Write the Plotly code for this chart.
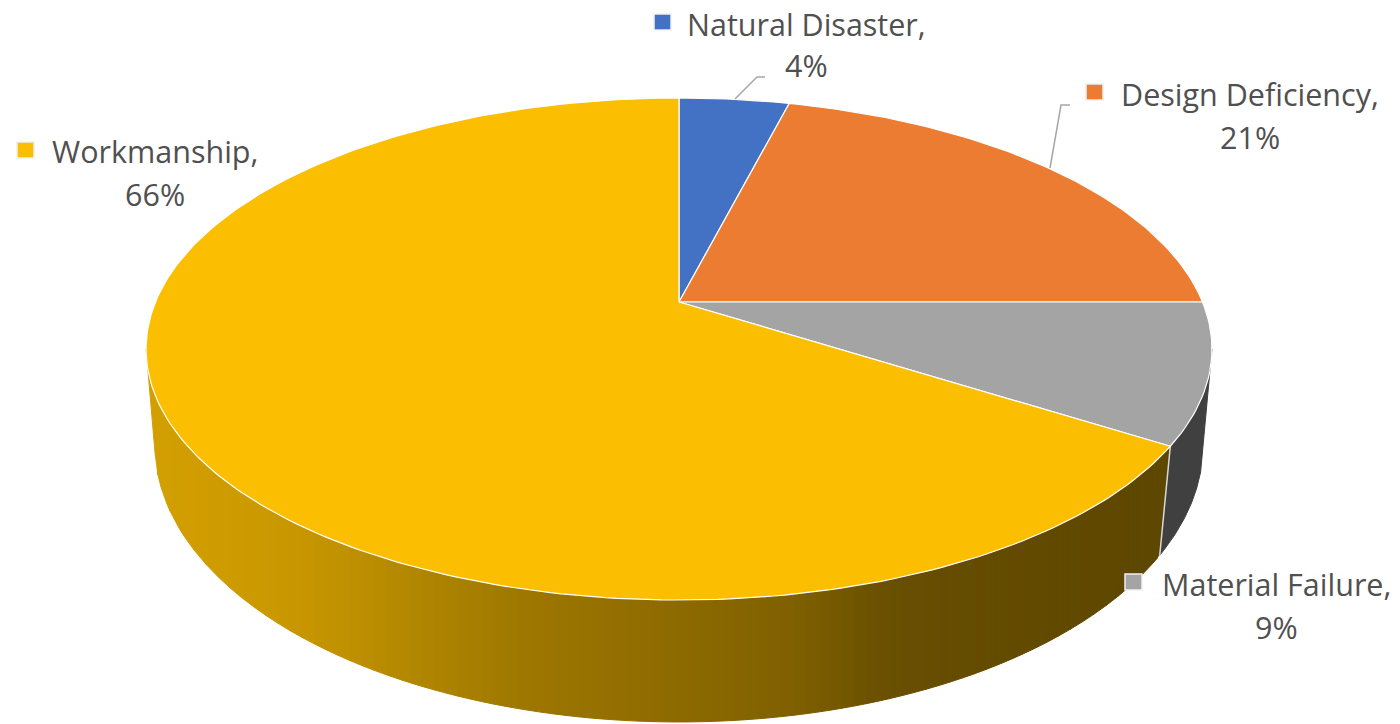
import math
import numpy as np
import plotly.graph_objects as go

categories = ["Natural Disaster", "Design Deficiency", "Material Failure", "Workmanship"]
values = [4, 21, 9, 66]
colors = ["#4371C3", "#EC7C31", "#A4A4A4", "#FCBE00"]
label_xy = [(806, 24, 65), (1250, 94, 137), (1276, 584, 627), (155, 151, 194)]
key_xy = [(654, 14), (1086, 84), (1125, 574), (17, 142)]
leaders = [[(735, 99), (757, 77), (765, 77)], [(1050, 168), (1061, 105), (1070, 105)]]

TOP = dict(cy=302, a=523.5, b=242.2, k=0.1873)
BOT = dict(cy=396.5, a=516, b=268.5, k=0.175)
CX = 679
GREY_WALL = "#404040"
# brightness of the yellow wall by screen x
SHADE_X = [146, 280, 350, 420, 520, 680, 800, 880, 950, 1170]
SHADE_S = [.84, .80, .76, .70, .63, .56, .50, .42, .40, .37]
BAND = 12


def project(theta, d):
    u, v = math.sin(theta), math.cos(theta)
    w = 1 + d["k"] * v
    return CX + d["a"] * u / w, d["cy"] - d["b"] * v / w


def hex_scale(c, s):
    return "rgb(%d,%d,%d)" % tuple(round(int(c[i:i + 2], 16) * s) for i in (1, 3, 5))


fig = go.Figure()
total = sum(values)
edges = [0]
for val in values:
    edges.append(edges[-1] + val / total * 2 * math.pi)

p0, p1 = project(edges[3], TOP), project(edges[3], BOT)

# grey wall: straight tangent from the rim's rightmost point down to the lower rim
ts = np.linspace(math.radians(30), edges[3], 400)
top_pts = np.array([project(t, TOP) for t in ts])
E = top_pts[int(np.argmax(top_pts[:, 0]))]
low_pts = np.array([project(t, BOT) for t in ts])
ok = low_pts[:, 1] > E[1] + 1
slopes = np.where(ok, (low_pts[:, 0] - E[0]) / np.maximum(low_pts[:, 1] - E[1], 1), -1e9)
start = int(np.argmax(slopes))
poly = [tuple(E)] + [tuple(p) for p in low_pts[start:]] + [p0, tuple(E)]
fig.add_trace(go.Scatter(x=[p[0] for p in poly], y=[p[1] for p in poly], mode="lines", fill="toself",
                         fillcolor=GREY_WALL, line=dict(color=GREY_WALL, width=1),
                         hoverinfo="skip", showlegend=False))

# yellow wall, in vertical bands of falling brightness
ts = np.linspace(edges[3], edges[4], 900)
top_pts = np.array([project(t, TOP) for t in ts])
low_pts = np.array([project(t, BOT) for t in ts])
left_t = int(np.argmin(top_pts[:, 0]))
tx, ty = top_pts[:left_t + 1, 0][::-1], top_pts[:left_t + 1, 1][::-1]
left_b = int(np.argmin(low_pts[:, 0]))
bx, by = low_pts[:left_b + 1, 0][::-1], low_pts[:left_b + 1, 1][::-1]
# tangent from the rim's leftmost point to the lower rim
ok = by > ty[0] + 1
slopes = np.where(ok, (bx - tx[0]) / np.maximum(by - ty[0], 1), 1e9)
tan = int(np.argmin(slopes))
bx = np.concatenate([[tx[0]], bx[tan:], [p0[0]]])
by = np.concatenate([[ty[0]], by[tan:], [p0[1]]])
x0, x_right = tx[0], tx[-1]
while x0 < x_right:
    x1 = min(x0 + BAND, x_right)
    xs = np.linspace(x0, x1, 5)
    yt = np.interp(xs, tx, ty)
    yb = np.interp(xs, bx, by)
    col = hex_scale(colors[3], float(np.interp((x0 + x1) / 2, SHADE_X, SHADE_S)))
    fig.add_trace(go.Scatter(x=list(xs) + list(xs[::-1]) + [xs[0]], y=list(yt) + list(yb[::-1]) + [yt[0]],
                             mode="lines", fill="toself", fillcolor=col, line=dict(color=col, width=1),
                             hoverinfo="skip", showlegend=False))
    x0 = x1

# white seam on the wall between the grey and yellow slices
fig.add_trace(go.Scatter(x=[p0[0], p1[0]], y=[p0[1], p1[1]], mode="lines",
                         line=dict(color="#D9D9D9", width=1.5), hoverinfo="skip", showlegend=False))

# top face
for i, (cat, val, c) in enumerate(zip(categories, values, colors)):
    n = max(8, int((edges[i + 1] - edges[i]) / math.radians(1)))
    xs, ys = [CX], [TOP["cy"]]
    for j in range(n + 1):
        x, y = project(edges[i] + (edges[i + 1] - edges[i]) * j / n, TOP)
        xs.append(x)
        ys.append(y)
    xs.append(CX)
    ys.append(TOP["cy"])
    fig.add_trace(go.Scatter(x=xs, y=ys, mode="lines", fill="toself", fillcolor=c, name=cat,
                             line=dict(color="#FFFFFF", width=1.2), showlegend=False,
                             text=f"{cat}, {val}%", hoverinfo="text"))

# leader lines
for pts in leaders:
    fig.add_trace(go.Scatter(x=[p[0] for p in pts], y=[p[1] for p in pts], mode="lines",
                             line=dict(color="#A6A6A6", width=1.5), hoverinfo="skip", showlegend=False))

font = dict(family="Open Sans", size=30.5, color="#505050")
ann, shapes = [], []
for cat, val, c, (lx, y1, y2), (kx, ky) in zip(categories, values, colors, label_xy, key_xy):
    ann.append(dict(x=lx, y=y1, xref="x", yref="y", text=cat + ",", showarrow=False, font=font,
                    xanchor="center", yanchor="middle"))
    ann.append(dict(x=lx, y=y2, xref="x", yref="y", text=f"{val}%", showarrow=False, font=font,
                    xanchor="center", yanchor="middle"))
    shapes.append(dict(type="rect", xref="x", yref="y", x0=kx, x1=kx + 17, y0=ky, y1=ky + 16,
                       fillcolor=c, line=dict(color="#F0F0F0", width=1.5)))

fig.update_layout(
    width=1400, height=724, margin=dict(l=0, r=0, t=0, b=0),
    paper_bgcolor="#FFFFFF", plot_bgcolor="#FFFFFF",
    xaxis=dict(range=[0, 1400], visible=False, fixedrange=True),
    yaxis=dict(range=[724, 0], visible=False, fixedrange=True),
    annotations=ann, shapes=shapes, showlegend=False,
)
fig.write_html("out.html", config=dict(displayModeBar=False),
               post_script="document.body.style.margin='0';document.documentElement.style.overflow='hidden';")
